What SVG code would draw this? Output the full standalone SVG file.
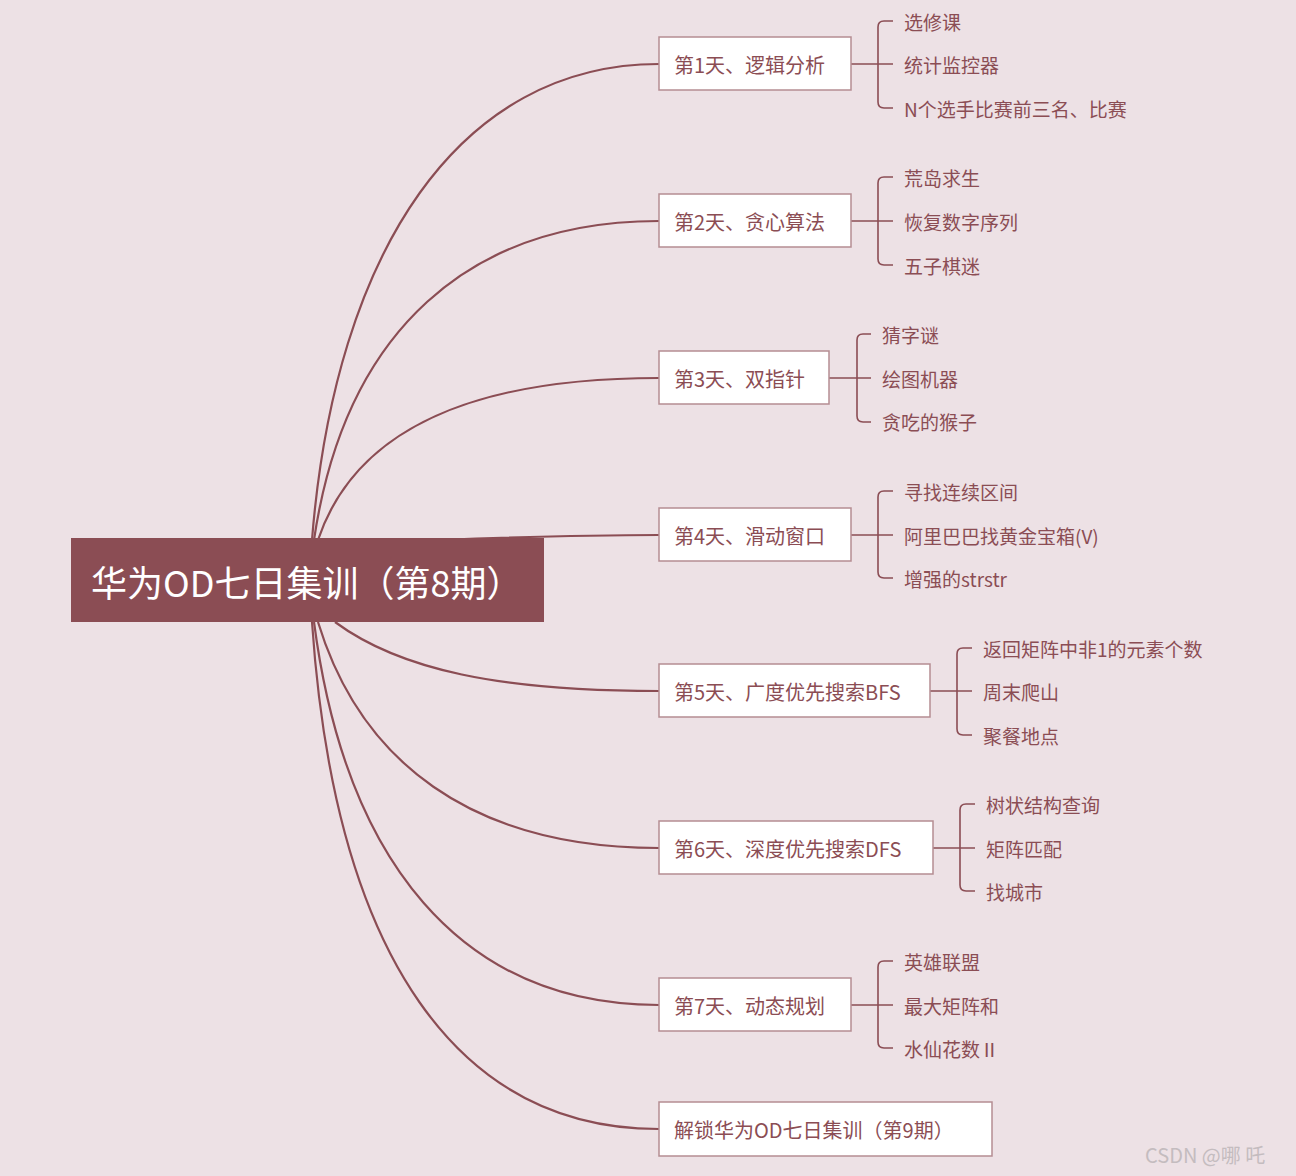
<svg xmlns="http://www.w3.org/2000/svg" width="1296" height="1176" viewBox="0 0 1296 1176">
<style>
text{font-family:"Noto Sans CJK SC","Noto Sans",sans-serif;fill:#8b4d54;dominant-baseline:central}
.n rect{fill:#fff;stroke:#b58d92;stroke-width:1.5}
.n text{font-size:20px}
.c text{font-size:19px}
.l{fill:none;stroke:#8b4d54;stroke-width:2.2}
.b{fill:none;stroke:#8b4d54;stroke-width:1.6}
</style>
<rect width="1296" height="1176" fill="#ede1e5"/>
<g id="connectors">
<path class="l" d="M312,540 C335,250 460,64 659,64"/>
<path class="l" d="M314,540 C345,330 470,221 659,221"/>
<path class="l" d="M318,540 C355,430 470,378 659,378"/>
<path class="l" d="M440,540 C520,537 600,535 659,535"/>
<path class="l" d="M335,622 C400,670 500,691 659,691"/>
<path class="l" d="M318,622 C360,760 470,848 659,848"/>
<path class="l" d="M314,622 C345,860 460,1005 659,1005"/>
<path class="l" d="M312,622 C335,960 460,1129 659,1129"/>
<g class="b">
<path d="M851,64H893M893,21H884Q878,21 878,27V102Q878,108 884,108H893"/>
<path d="M851,221H893M893,177H884Q878,177 878,183V259Q878,265 884,265H893"/>
<path d="M829,378H871M871,334H863Q857,334 857,340V416Q857,422 863,422H871"/>
<path d="M851,535H893M893,491H884Q878,491 878,497V572Q878,578 884,578H893"/>
<path d="M930,691H972M972,648H963Q957,648 957,654V729Q957,735 963,735H972"/>
<path d="M933,848H975M975,804H966Q960,804 960,810V885Q960,891 966,891H975"/>
<path d="M851,1005H893M893,961H884Q878,961 878,967V1042Q878,1048 884,1048H893"/>
</g>
</g>
<g id="root"><rect x="71" y="538" width="473" height="84" fill="#8b4d54"/><text x="91" y="581" style="font-size:36px;fill:#fff">华为OD七日集训（第8期）</text></g>
<g id="d1" class="n"><rect x="659" y="37" width="192" height="53"/><text x="674" y="64">第1天、逻辑分析</text></g>
<g id="d2" class="n"><rect x="659" y="194" width="192" height="53"/><text x="674" y="221">第2天、贪心算法</text></g>
<g id="d3" class="n"><rect x="659" y="351" width="170" height="53"/><text x="674" y="378">第3天、双指针</text></g>
<g id="d4" class="n"><rect x="659" y="508" width="192" height="53"/><text x="674" y="535">第4天、滑动窗口</text></g>
<g id="d5" class="n"><rect x="659" y="664" width="271" height="53"/><text x="674" y="691">第5天、广度优先搜索BFS</text></g>
<g id="d6" class="n"><rect x="659" y="821" width="274" height="53"/><text x="674" y="848">第6天、深度优先搜索DFS</text></g>
<g id="d7" class="n"><rect x="659" y="978" width="192" height="53"/><text x="674" y="1005">第7天、动态规划</text></g>
<g id="d9" class="n"><rect x="659" y="1102" width="333" height="54"/><text x="674" y="1129">解锁华为OD七日集训（第9期）</text></g>
<g class="c">
<g id="c1"><text x="904" y="21">选修课</text><text x="904" y="64">统计监控器</text><text x="904" y="108">N个选手比赛前三名、比赛</text></g>
<g id="c2"><text x="904" y="177">荒岛求生</text><text x="904" y="221">恢复数字序列</text><text x="904" y="265">五子棋迷</text></g>
<g id="c3"><text x="882" y="334">猜字谜</text><text x="882" y="378">绘图机器</text><text x="882" y="421">贪吃的猴子</text></g>
<g id="c4"><text x="904" y="491">寻找连续区间</text><text x="904" y="535">阿里巴巴找黄金宝箱(V)</text><text x="904" y="578">增强的strstr</text></g>
<g id="c5"><text x="983" y="648">返回矩阵中非1的元素个数</text><text x="983" y="691">周末爬山</text><text x="983" y="735">聚餐地点</text></g>
<g id="c6"><text x="986" y="804">树状结构查询</text><text x="986" y="848">矩阵匹配</text><text x="986" y="891">找城市</text></g>
<g id="c7"><text x="904" y="961">英雄联盟</text><text x="904" y="1005">最大矩阵和</text><text x="904" y="1048">水仙花数Ⅱ</text></g>
</g>
<text x="1145" y="1154" style="font-size:20px;fill:#c4bcbf">CSDN @哪 吒</text>
</svg>
